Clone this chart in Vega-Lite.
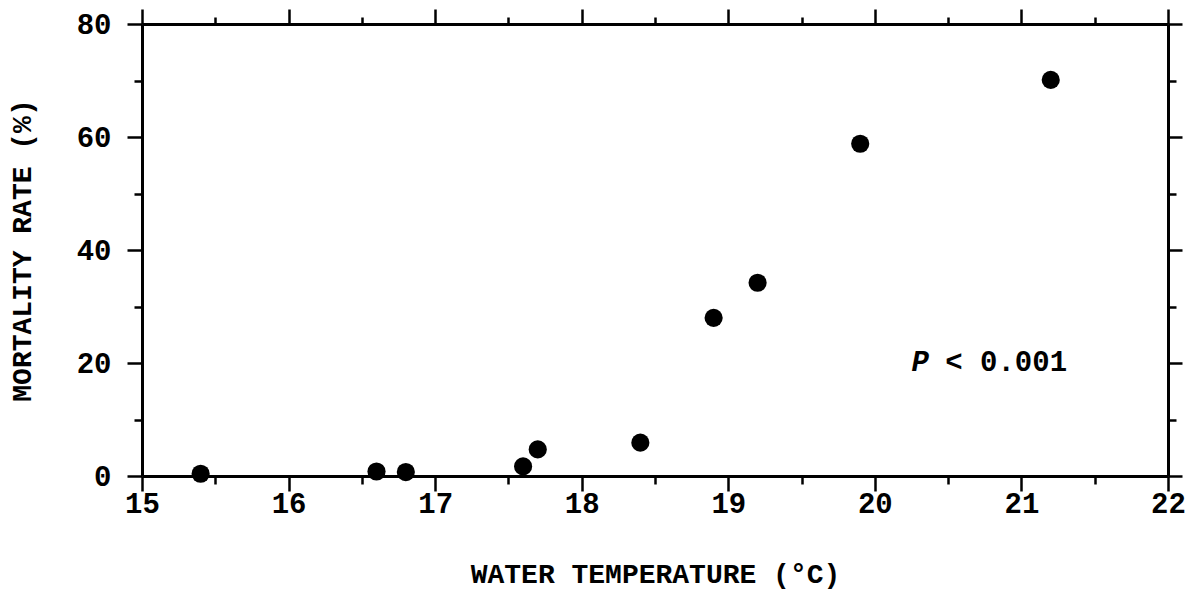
{
  "$schema": "https://vega.github.io/schema/vega-lite/v6.json",
  "width": 1026,
  "height": 452,
  "autosize": "none",
  "padding": {"left": 142, "top": 24, "right": 24, "bottom": 113},
  "background": "white",
  "config": {
    "view": {"stroke": null},
    "font": "Liberation Mono",
    "axis": {
      "domainColor": "black",
      "domainWidth": 3,
      "tickColor": "black",
      "tickWidth": 2.5,
      "grid": false,
      "labelFont": "Liberation Mono",
      "labelFontWeight": "bold",
      "labelFontSize": 29,
      "labelColor": "black",
      "labelOverlap": false,
      "labelFlush": false,
      "titleFont": "Liberation Mono",
      "titleFontWeight": "bold",
      "titleFontSize": 28,
      "titleColor": "black"
    }
  },
  "layer": [
    {
      "data": {"values": [
        {"temp": 15.4, "rate": 0.4},
        {"temp": 16.6, "rate": 0.8},
        {"temp": 16.8, "rate": 0.7},
        {"temp": 17.6, "rate": 1.7},
        {"temp": 17.7, "rate": 4.7},
        {"temp": 18.4, "rate": 5.9},
        {"temp": 18.9, "rate": 28.0},
        {"temp": 19.2, "rate": 34.2},
        {"temp": 19.9, "rate": 58.8},
        {"temp": 21.2, "rate": 70.1}
      ]},
      "mark": {"type": "circle", "size": 330, "color": "black", "opacity": 1},
      "encoding": {
        "x": {
          "field": "temp", "type": "quantitative",
          "scale": {"domain": [15, 22], "nice": false, "zero": false},
          "axis": {
            "orient": "bottom",
            "title": "WATER TEMPERATURE (°C)",
            "titlePadding": 42,
            "values": [15, 15.5, 16, 16.5, 17, 17.5, 18, 18.5, 19, 19.5, 20, 20.5, 21, 21.5, 22],
            "labelExpr": "datum.value % 1 === 0 ? format(datum.value, 'd') : ''",
            "tickSize": {"condition": {"test": "datum.value % 1 === 0", "value": 15}, "value": 8},
            "labelPadding": -2
          }
        },
        "y": {
          "field": "rate", "type": "quantitative",
          "scale": {"domain": [0, 80], "nice": false, "zero": true},
          "axis": {
            "orient": "left",
            "title": "MORTALITY RATE (%)",
            "titlePadding": 40,
            "values": [0, 10, 20, 30, 40, 50, 60, 70, 80],
            "labelExpr": "datum.value % 20 === 0 ? datum.label : ''",
            "tickSize": {"condition": {"test": "datum.value % 20 === 0", "value": 15}, "value": 8},
            "labelPadding": 16
          }
        }
      }
    },
    {
      "data": {"values": [{"temp": 20.31, "rate": 20.2, "label": "P"}]},
      "mark": {"type": "text", "font": "Liberation Mono", "fontWeight": "bold", "fontStyle": "italic", "fontSize": 29, "color": "black", "align": "center", "baseline": "middle"},
      "encoding": {
        "x": {
          "field": "temp", "type": "quantitative",
          "scale": {"domain": [15, 22], "nice": false, "zero": false},
          "axis": {
            "orient": "top",
            "title": null,
            "labels": false,
            "values": [15, 15.5, 16, 16.5, 17, 17.5, 18, 18.5, 19, 19.5, 20, 20.5, 21, 21.5, 22],
            "tickSize": {"condition": {"test": "datum.value % 1 === 0", "value": 15}, "value": 7}
          }
        },
        "y": {
          "field": "rate", "type": "quantitative",
          "scale": {"domain": [0, 80], "nice": false, "zero": true},
          "axis": {
            "orient": "right",
            "title": null,
            "labels": false,
            "values": [0, 10, 20, 30, 40, 50, 60, 70, 80],
            "tickSize": {"condition": {"test": "datum.value % 20 === 0", "value": 14}, "value": 8}
          }
        },
        "text": {"field": "label"}
      }
    },
    {
      "data": {"values": [{"temp": 20.48, "rate": 20.2, "label": "< 0.001"}]},
      "mark": {"type": "text", "font": "Liberation Mono", "fontWeight": "bold", "fontSize": 29, "color": "black", "align": "left", "baseline": "middle"},
      "encoding": {
        "x": {"field": "temp", "type": "quantitative", "scale": {"domain": [15, 22], "nice": false, "zero": false}, "axis": null},
        "y": {"field": "rate", "type": "quantitative", "scale": {"domain": [0, 80], "nice": false, "zero": true}, "axis": null},
        "text": {"field": "label"}
      }
    }
  ],
  "resolve": {"axis": {"x": "independent", "y": "independent"}}
}
